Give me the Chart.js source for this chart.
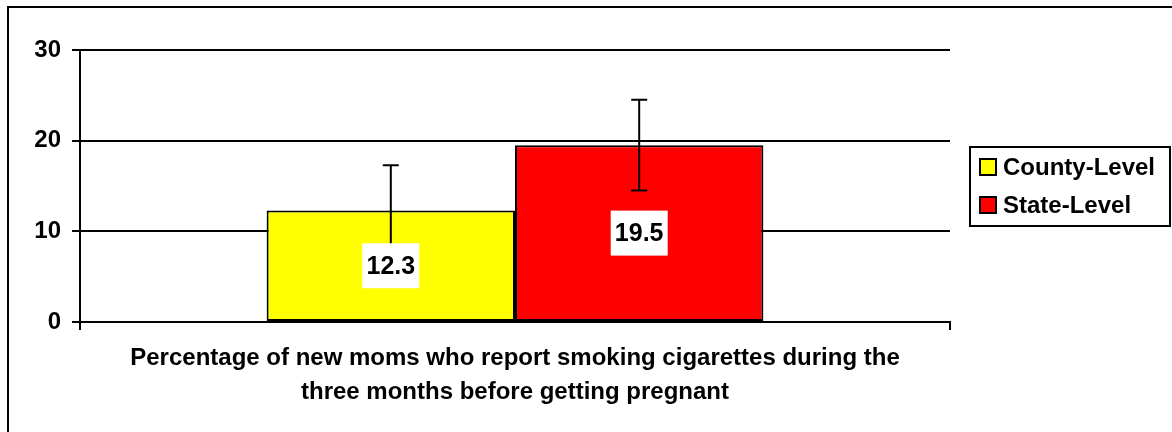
<!DOCTYPE html>
<html>
<head>
<meta charset="utf-8">
<script src="https://cdn.jsdelivr.net/npm/chart.js@4"></script>
<style>
  html, body { margin: 0; padding: 0; background: #fff; }
  canvas { display: block; }
</style>
</head>
<body>
<canvas id="prams" width="1172" height="432"></canvas>
<script>
const categories = ['Percentage of new moms who report smoking cigarettes during the three months before getting pregnant'];
const seriesNames = ['County-Level', 'State-Level'];
const seriesColors = ['#ffff00', '#ff0000'];
const countyValues = [12.3];
const stateValues = [19.5];
const lowerCI = [7.3, 14.5];
const upperCI = [17.3, 24.5];
const yTicks = [0, 10, 20, 30];
const titleLines = ['Percentage of new moms who report smoking cigarettes during the', 'three months before getting pregnant'];

const FONT = "'Liberation Sans', Arial, sans-serif";

// outer frame (only top and left edges fall inside the picture)
const frame = {
  id: 'frame',
  beforeDraw(chart) {
    const c = chart.ctx;
    c.save();
    c.strokeStyle = '#000';
    c.lineWidth = 2;
    c.strokeRect(8, 7, 1300, 600);
    c.restore();
  }
};

// error bars and the boxed value labels
const errorBars = {
  id: 'errorBars',
  afterDatasetsDraw(chart) {
    const c = chart.ctx;
    const y = chart.scales.y;
    c.save();
    c.strokeStyle = '#000';
    c.lineWidth = 2;
    chart.data.datasets.forEach((ds, i) => {
      const bar = chart.getDatasetMeta(i).data[0];
      const yl = y.getPixelForValue(lowerCI[i]);
      const yh = y.getPixelForValue(upperCI[i]);
      c.beginPath();
      c.moveTo(bar.x, yl); c.lineTo(bar.x, yh);
      c.moveTo(bar.x - 8, yh); c.lineTo(bar.x + 8, yh);
      c.moveTo(bar.x - 8, yl); c.lineTo(bar.x + 8, yl);
      c.stroke();
    });
    // value labels
    c.font = 'bold 25px ' + FONT;
    c.textAlign = 'center';
    c.textBaseline = 'middle';
    chart.data.datasets.forEach((ds, i) => {
      const bar = chart.getDatasetMeta(i).data[0];
      const txt = ds.data[0].toFixed(1);
      const w = 57;
      const h = 45;
      const cy = (bar.y + bar.base) / 2;
      c.fillStyle = '#fff';
      c.fillRect(bar.x - w / 2, cy - h / 2, w, h);
      c.fillStyle = '#000';
      c.fillText(txt, bar.x, cy + 1);
    });
    c.restore();
  }
};

// boxed legend on the right
const boxLegend = {
  id: 'boxLegend',
  afterDraw(chart) {
    const c = chart.ctx;
    const left = 970, top = 147, w = 200, h = 79;
    c.save();
    c.strokeStyle = '#000';
    c.lineWidth = 2;
    c.strokeRect(left, top, w, h);
    c.font = 'bold 24px ' + FONT;
    c.textBaseline = 'middle';
    c.textAlign = 'left';
    chart.data.datasets.forEach((ds, i) => {
      const cy = top + 20 + i * 38;
      c.fillStyle = ds.backgroundColor;
      c.fillRect(left + 10, cy - 8, 16, 16);
      c.strokeRect(left + 10, cy - 8, 16, 16);
      c.fillStyle = '#000';
      c.fillText(ds.label, left + 33, cy + 1);
    });
    c.restore();
  }
};

new Chart(document.getElementById('prams'), {
  type: 'bar',
  data: {
    labels: categories,
    datasets: [
      {
        label: seriesNames[0],
        data: countyValues,
        backgroundColor: seriesColors[0],
        borderColor: '#000',
        borderWidth: 2,
        borderSkipped: false,
        categoryPercentage: 0.571,
        barPercentage: 1.0
      },
      {
        label: seriesNames[1],
        data: stateValues,
        backgroundColor: seriesColors[1],
        borderColor: '#000',
        borderWidth: 2,
        borderSkipped: false,
        categoryPercentage: 0.571,
        barPercentage: 1.0
      }
    ]
  },
  options: {
    responsive: false,
    animation: false,
    devicePixelRatio: 1,
    layout: { padding: { left: 0, top: 50, right: 222, bottom: 0 } },
    plugins: {
      legend: { display: false },
      tooltip: { enabled: false }
    },
    scales: {
      x: {
        afterFit(scale) { scale.height = 110; },
        ticks: { display: false },
        grid: { color: '#000', lineWidth: 2, drawOnChartArea: false, tickLength: 8 },
        border: { color: '#000', width: 2 },
        title: {
          display: true,
          text: titleLines,
          color: '#000',
          font: { family: FONT, size: 24, weight: 'bold', lineHeight: 1.417 },
          padding: { top: 0, bottom: 23 }
        }
      },
      y: {
        min: 0,
        max: 30,
        afterFit(scale) { scale.width = 80; },
        afterBuildTicks(scale) { scale.ticks = yTicks.map(v => ({ value: v })); },
        ticks: {
          color: '#000',
          padding: 11,
          font: { family: FONT, size: 24, weight: 'bold' }
        },
        grid: { color: '#000', lineWidth: 2, tickLength: 8 },
        border: { color: '#000', width: 2 }
      }
    }
  },
  plugins: [frame, errorBars, boxLegend]
});
</script>
</body>
</html>
